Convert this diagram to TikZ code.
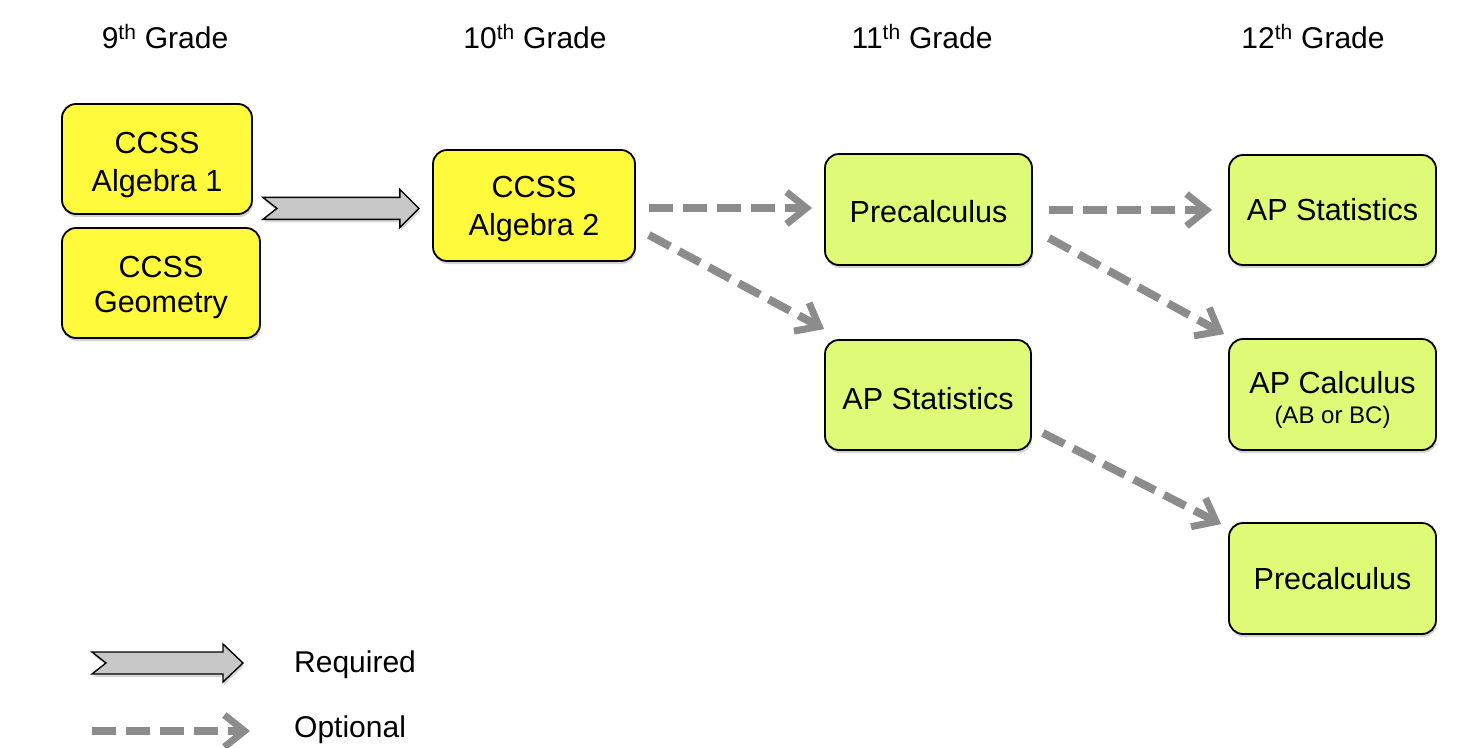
\documentclass[tikz,border=0pt]{standalone}
\usepackage{fontspec}
\setmainfont{Liberation Sans}
\usetikzlibrary{arrows.meta,calc,shadows}
\definecolor{cyel}{RGB}{255,250,60}
\definecolor{cgrn}{RGB}{222,250,118}
\definecolor{cdash}{RGB}{140,140,140}
\definecolor{creq}{RGB}{200,200,200}
\newcommand\tsh[1]{\rule{0pt}{#1pt}}
\tikzset{
  box/.style={draw=black, line width=1.8pt, rounded corners=14pt, align=center,
    font=\fontsize{30.5}{38}\selectfont, inner sep=0pt,
    drop shadow={opacity=0.35, shadow xshift=1pt, shadow yshift=-3pt}},
  ybox/.style={box, fill=cyel},
  gbox/.style={box, fill=cgrn},
  hdr/.style={font=\fontsize{30}{36}\selectfont, inner sep=0pt},
  leg/.style={font=\fontsize{30}{36}\selectfont, inner sep=0pt, anchor=west},
  opt/.style={draw=cdash, line width=8pt, dash pattern=on 24pt off 10pt,
    -{Straight Barb[length=20pt,width=32pt,line width=7pt]}},
  reqarrow/.style={draw=black, line width=1.4pt, fill=creq, line join=miter,
    drop shadow={opacity=0.3, shadow xshift=1pt, shadow yshift=-3pt}}
}
\begin{document}
\begin{tikzpicture}[x=1pt,y=-1pt]
\useasboundingbox (0,0) rectangle (1459,747);
% headers
\node[hdr] (h9)  at (165,37)  {9\textsuperscript{th} Grade};
\node[hdr] (h10) at (535,37)  {10\textsuperscript{th} Grade};
\node[hdr] (h11) at (922,37)  {11\textsuperscript{th} Grade};
\node[hdr] (h12) at (1313,37) {12\textsuperscript{th} Grade};
% boxes
\node[ybox, minimum width=190pt, minimum height=110pt] (alg1) at (157,159) {\tsh{34}CCSS\\Algebra 1};
\node[ybox, minimum width=198pt, minimum height=110pt] (geo) at (161,283) {\tsh{31}CCSS\\[-3pt]Geometry};
\node[ybox, minimum width=202pt, minimum height=111pt] (alg2) at (534,205.5) {\tsh{28}CCSS\\Algebra 2};
\node[gbox, minimum width=207pt, minimum height=111pt] (pre11) at (928.5,209.5) {\tsh{26}Precalculus};
\node[gbox, minimum width=206pt, minimum height=110pt] (aps11) at (928,395) {\tsh{30}AP Statistics};
\node[gbox, minimum width=207pt, minimum height=110pt] (aps12) at (1332.5,210) {AP Statistics};
\node[gbox, minimum width=207pt, minimum height=111pt] (apc12) at (1332.5,394.5) {\tsh{32}AP Calculus\\[-8pt]{\fontsize{24}{30}\selectfont (AB or BC)}};
\node[gbox, minimum width=207pt, minimum height=111pt] (pre12) at (1332.5,578.5) {Precalculus};
% required arrow
\coordinate (reqA) at ($(alg1.south east)+(10,-6.5)$);
\draw[reqarrow, shift={(reqA)}] (0,-11) -- (137,-11) -- (137,-19) -- (156,0) -- (137,19) -- (137,11) -- (0,11) -- (14,0) -- cycle;
% optional arrows
\draw[opt] ($(alg2.east)+(13,2.5)$) -- ($(pre11.west)+(-12,-1.5)$);
\draw[opt] ($(alg2.east)+(13,29.5)$) -- ($(aps11.north west)+(0,-10)$);
\draw[opt] ($(pre11.east)+(16,0.5)$) -- ($(aps12.west)+(-16,0)$);
\draw[opt] ($(pre11.east)+(16,28.5)$) -- ($(apc12.north west)+(-4,-4)$);
\draw[opt] ($(aps11.east)+(11,38)$) -- ($(pre12.north west)+(-7,2)$);
% legend
\node[leg] (lreq) at (294,665) {Required};
\node[leg] (lopt) at (294,730) {Optional};
\coordinate (legR) at (92,663);
\draw[reqarrow, shift={(legR)}] (0,-11) -- (131,-11) -- (131,-19) -- (151,0) -- (131,19) -- (131,11) -- (0,11) -- (14,0) -- cycle;
\coordinate (legO1) at (92,731);
\coordinate (legO2) at (250,731);
\draw[opt] (legO1) -- (legO2);
\end{tikzpicture}
\end{document}
